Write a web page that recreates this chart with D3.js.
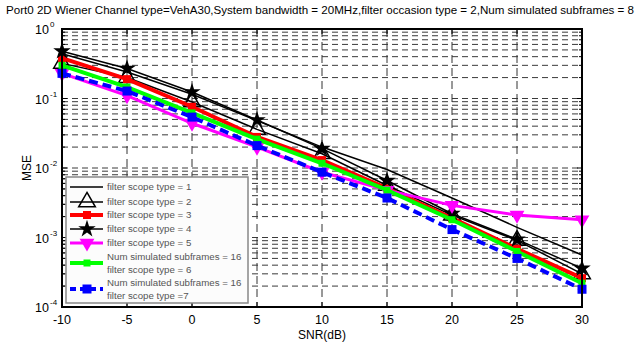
<!DOCTYPE html>
<html>
<head>
<meta charset="utf-8">
<script src="https://cdn.jsdelivr.net/npm/d3@7"></script>
<style>
body { margin: 0; background: #fff; }
svg { font-family: "Liberation Sans", Arial, sans-serif; }
</style>
</head>
<body>
<svg id="chart" width="637" height="346"></svg>
<script>
// data
var snr = [-10, -5, 0, 5, 10, 15, 20, 25, 30];
var type1 = [0.44, 0.24, 0.115, 0.048, 0.020, 0.0095, 0.0037, 0.0014, 0.00056];
var type2 = [0.32, 0.20, 0.089, 0.036, 0.016, 0.0056, 0.0021, 0.00091, 0.00030];
var type3 = [0.38, 0.19, 0.076, 0.028, 0.013, 0.0051, 0.0019, 0.00069, 0.00026];
var type4 = [0.48, 0.27, 0.124, 0.049, 0.019, 0.0066, 0.0022, 0.00094, 0.00036];
var type5 = [0.23, 0.11, 0.044, 0.020, 0.0087, 0.0048, 0.0029, 0.0021, 0.0018];
var type6 = [0.30, 0.146, 0.062, 0.026, 0.0117, 0.0048, 0.0018, 0.00063, 0.00022];
var type7 = [0.23, 0.128, 0.054, 0.021, 0.0087, 0.0037, 0.0013, 0.00050, 0.00018];
var xTicks = [-10, -5, 0, 5, 10, 15, 20, 25, 30];
var yExps = [0, -1, -2, -3, -4];
var legendLabels = [
    ["filter scope type = 1"],
    ["filter scope type = 2"],
    ["filter scope type = 3"],
    ["filter scope type = 4"],
    ["filter scope type = 5"],
    ["Num simulated subframes = 16", "filter scope type = 6"],
    ["Num simulated subframes = 16", "filter scope type =7"]
];
var titleText = "Port0 2D Wiener Channel type=VehA30,System bandwidth = 20MHz,filter occasion type = 2,Num simulated subframes = 8";

// one style per series
var series = [
    {values: type1, color: "#000", width: 1.5, dash: null, marker: null},
    {values: type2, color: "#000", width: 1.5, dash: null, marker: "tri"},
    {values: type3, color: "#ff0000", width: 4, dash: null, marker: "sq"},
    {values: type4, color: "#000", width: 1.5, dash: null, marker: "star"},
    {values: type5, color: "#ff00ff", width: 3, dash: null, marker: "tridown"},
    {values: type6, color: "#00ff00", width: 4, dash: null, marker: "sqsmall"},
    {values: type7, color: "#0000ff", width: 4, dash: "9,5", marker: "sqbig"}
];

var pLeft = 62, pRight = 582, pTop = 29, pBottom = 307;
var svg = d3.select("#chart");

var x = d3.scaleLinear().domain([-10, 30]).range([pLeft, pRight]);
var y = d3.scaleLog().domain([1e-4, 1]).range([pBottom, pTop]);

// grid lines
var grid = svg.append("g");
var minorVals = [];
for (var e = -4; e < 0; e++) {
    for (var m = 1; m < 10; m++) minorVals.push(m * Math.pow(10, e));
}
grid.selectAll(".hgrid").data(minorVals.slice(1)).enter().append("line")
    .attr("x1", pLeft).attr("x2", pRight)
    .attr("y1", function(d){ return y(d); })
    .attr("y2", function(d){ return y(d); })
    .attr("stroke", "#3a3a3a")
    .attr("stroke-width", 1)
    .attr("stroke-dasharray", "6,4");
grid.selectAll(".vgrid").data(xTicks.slice(1, -1)).enter().append("line")
    .attr("x1", function(d){ return x(d); })
    .attr("x2", function(d){ return x(d); })
    .attr("y1", pTop).attr("y2", pBottom)
    .attr("stroke", "#333")
    .attr("stroke-width", 1)
    .attr("stroke-dasharray", "8,5");

// minor ticks on both y sides, inward
var ticks = svg.append("g").attr("stroke", "#000").attr("stroke-width", 1);
minorVals.forEach(function(d){
    var len = (Math.abs(Math.log10(d) - Math.round(Math.log10(d))) < 1e-9) ? 5 : 3;
    ticks.append("line").attr("x1", pLeft).attr("x2", pLeft + len).attr("y1", y(d)).attr("y2", y(d));
    ticks.append("line").attr("x1", pRight).attr("x2", pRight - len).attr("y1", y(d)).attr("y2", y(d));
});
xTicks.forEach(function(d){
    ticks.append("line").attr("x1", x(d)).attr("x2", x(d)).attr("y1", pBottom).attr("y2", pBottom - 5);
    ticks.append("line").attr("x1", x(d)).attr("x2", x(d)).attr("y1", pTop).attr("y2", pTop + 5);
});

// markers
function drawMarker(g, kind, color, cx, cy){
    if (kind == "tri") {
        g.append("path").attr("d", d3.symbol(d3.symbolTriangle, 120)())
            .attr("transform", "translate(" + cx + "," + cy + ")")
            .attr("fill", "none").attr("stroke", color).attr("stroke-width", 1.5);
    } else if (kind == "tridown") {
        g.append("path").attr("d", d3.symbol(d3.symbolTriangle, 95)())
            .attr("transform", "translate(" + cx + "," + cy + ") rotate(180)")
            .attr("fill", color);
    } else if (kind == "star") {
        g.append("path").attr("d", d3.symbol(d3.symbolStar, 95)())
            .attr("transform", "translate(" + cx + "," + cy + ")")
            .attr("fill", color);
    } else if (kind == "sq" || kind == "sqsmall" || kind == "sqbig") {
        var s = kind == "sq" ? 8 : (kind == "sqsmall" ? 7 : 9);
        g.append("rect").attr("x", cx - s/2).attr("y", cy - s/2)
            .attr("width", s).attr("height", s).attr("fill", color);
    }
}

var line = d3.line()
    .x(function(d, i){ return x(snr[i]); })
    .y(function(d){ return y(d); });

var plot = svg.append("g");
series.forEach(function(s){
    var g = plot.append("g");
    g.append("path")
        .attr("d", line(s.values))
        .attr("fill", "none")
        .attr("stroke", s.color)
        .attr("stroke-width", s.width)
        .attr("stroke-dasharray", s.dash);
    if (s.marker) {
        s.values.forEach(function(v, i){
            drawMarker(g, s.marker, s.color, x(snr[i]), y(v));
        });
    }
});

// frame
svg.append("rect")
    .attr("x", pLeft).attr("y", pTop)
    .attr("width", pRight - pLeft).attr("height", pBottom - pTop)
    .attr("fill", "none").attr("stroke", "#000").attr("stroke-width", 2);

// x tick labels
svg.selectAll(".xlab").data(xTicks).enter().append("text")
    .attr("x", function(d){ return x(d); })
    .attr("y", 324)
    .attr("text-anchor", "middle")
    .attr("font-size", "12.5px")
    .text(function(d){ return d; });

// y tick labels
yExps.forEach(function(e){
    svg.append("text")
        .attr("x", 49)
        .attr("y", y(Math.pow(10, e)) + 5)
        .attr("text-anchor", "end")
        .attr("font-size", "12.5px")
        .text("10");
    svg.append("text")
        .attr("x", 50)
        .attr("y", y(Math.pow(10, e)) - 2)
        .attr("font-size", "8px")
        .text(e);
});

// axis titles
svg.append("text")
    .attr("x", 322).attr("y", 339)
    .attr("text-anchor", "middle")
    .attr("font-size", "12px")
    .text("SNR(dB)");
svg.append("text")
    .attr("transform", "translate(31," + ((pTop + pBottom) / 2) + ") rotate(-90)")
    .attr("text-anchor", "middle")
    .attr("font-size", "12px")
    .text("MSE");

// title
svg.append("text")
    .attr("x", 320).attr("y", 14)
    .attr("text-anchor", "middle")
    .attr("font-size", "11.5px")
    .attr("textLength", 628)
    .attr("lengthAdjust", "spacingAndGlyphs")
    .text(titleText);

// legend
var leg = svg.append("g");
leg.append("rect")
    .attr("x", 66).attr("y", 177)
    .attr("width", 182).attr("height", 126)
    .attr("fill", "#fcfcfc")
    .attr("stroke", "#888").attr("stroke-width", 1.5);
var rowY = [187, 202, 215, 229, 243, 263, 289];
series.forEach(function(s, i){
    var g = leg.append("g");
    var yy = rowY[i];
    g.append("line")
        .attr("x1", 70).attr("x2", 103)
        .attr("y1", yy).attr("y2", yy)
        .attr("stroke", s.color)
        .attr("stroke-width", s.width)
        .attr("stroke-dasharray", s.dash ? "6,4" : null);
    if (s.marker) drawMarker(g, s.marker, s.color, 87, yy);
    var lines = legendLabels[i];
    lines.forEach(function(txt, k){
        g.append("text")
            .attr("x", 107)
            .attr("y", yy + 3 + (lines.length == 2 ? (k == 0 ? -6 : 7) : 0))
            .attr("font-size", "9.7px")
            .attr("fill", "#555")
            .text(txt);
    });
});
</script>
</body>
</html>
